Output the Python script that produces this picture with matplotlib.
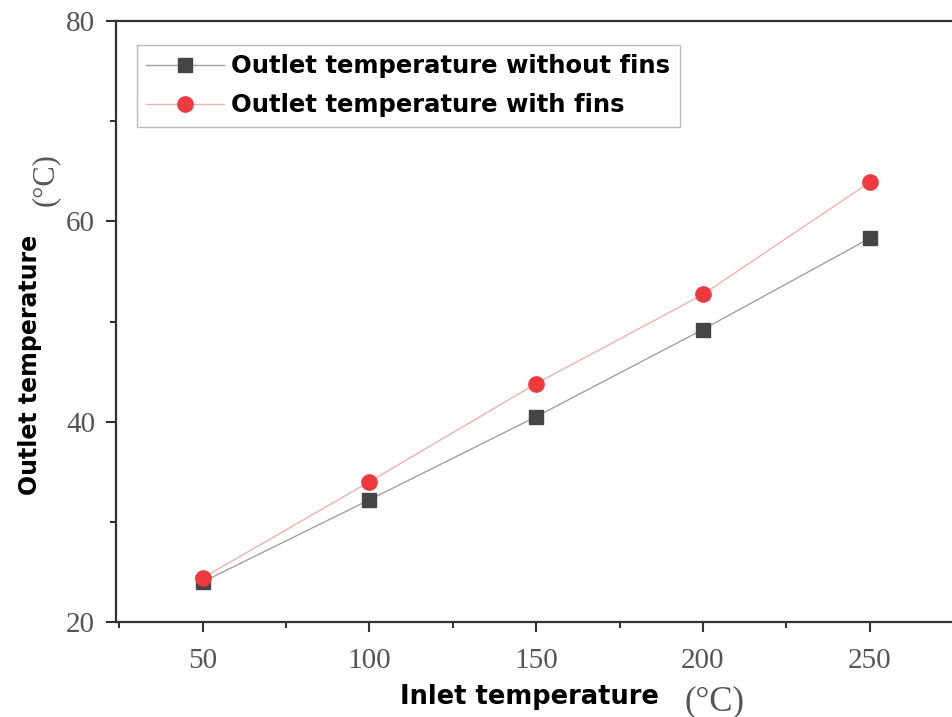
import numpy as np
import matplotlib.pyplot as plt
from matplotlib.ticker import MultipleLocator

inlet = [50, 100, 150, 200, 250]
without_fins = [24.0, 32.2, 40.5, 49.2, 58.3]
with_fins = [24.4, 34.0, 43.8, 52.7, 63.9]

fig = plt.figure(figsize=(9.53, 7.17), dpi=100)
ax = fig.add_axes([116/953, 1-622/717, 1-116/953, (622-21)/717])

ax.plot(inlet, without_fins, color='#a0a0a0', lw=1.0, marker='s', ms=10,
        mfc='#454545', mec='#454545', label='Outlet temperature without fins')
ax.plot(inlet, with_fins, color='#f2b0b0', lw=1.0, marker='o', ms=11,
        mfc='#ec3a3f', mec='#ec3a3f', label='Outlet temperature with fins')

ax.set_xlim(24, 275)
ax.set_ylim(20, 80)
ax.set_xticks(inlet)
ax.set_yticks([20, 40, 60, 80])
ax.xaxis.set_minor_locator(MultipleLocator(25))
ax.yaxis.set_minor_locator(MultipleLocator(10))
ax.tick_params(which='major', direction='out', length=7, width=1.5, color='#333333',
               labelsize=21, labelcolor='#555555', top=False, right=False)
ax.tick_params(axis='x', which='major', pad=12)
ax.tick_params(axis='y', which='major', pad=8)
ax.tick_params(which='minor', direction='out', length=4, width=1.5, color='#333333',
               top=False, right=False)
for lab in ax.get_xticklabels() + ax.get_yticklabels():
    lab.set_family('Liberation Serif')

for s in ['left', 'bottom', 'top']:
    ax.spines[s].set_linewidth(1.6)
    ax.spines[s].set_color('#333333')
ax.spines['right'].set_visible(False)

leg = ax.legend(loc='upper left', bbox_to_anchor=(21/837, (622-45)/601), borderaxespad=0,
                frameon=True, fancybox=False, edgecolor='#aaaaaa', handlelength=3.2,
                handletextpad=0.3, borderpad=0.38, labelspacing=0.62,
                prop={'family': 'DejaVu Sans', 'weight': 'bold', 'size': 17.5})
leg.get_frame().set_linewidth(1.0)

fig.text(400/953, 1-697/717, 'Inlet temperature', family='DejaVu Sans', weight='bold', fontsize=18.5,
         va='center', ha='left')
fig.text(685/953, 1-702/717, '(°C)', family='Liberation Serif', fontsize=25, color='#555555',
         va='center', ha='left')
fig.text(30/953, 1-365/717, 'Outlet temperature', family='DejaVu Sans', weight='bold', fontsize=17,
         rotation=90, va='center', ha='center')
fig.text(45/953, 1-180/717, '(°C)', family='Liberation Serif', fontsize=22, color='#555555',
         rotation=90, va='center', ha='center')

plt.savefig('out.png', dpi=100)
